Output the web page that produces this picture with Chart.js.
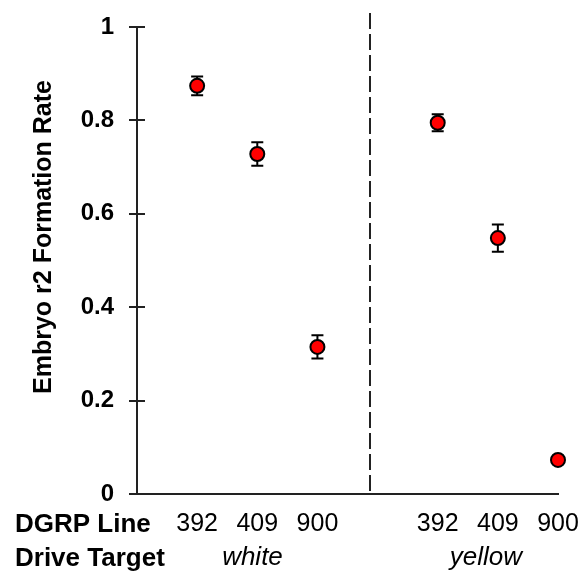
<!DOCTYPE html>
<html>
<head>
<meta charset="utf-8">
<script src="https://cdn.jsdelivr.net/npm/chart.js@4/dist/chart.umd.min.js"></script>
<style>
  html, body { margin: 0; padding: 0; background: #fff; }
  #wrap { width: 582px; height: 571px; }
</style>
</head>
<body>
<div id="wrap"><canvas id="chart" width="582" height="571"></canvas></div>
<script>
// ===========================================
// Data
// ===========================================

// DGRP lines along the x axis (blank slots = left edge and the gap between targets)
var lineLabels = ["", "392", "409", "900", "", "392", "409", "900"];

// Embryo r2 formation rate (null where there is no point)
var rateValues = [null, 0.874, 0.728, 0.315, null, 0.795, 0.548, 0.073];

// Error bar half-heights
var rateErrors = [null, 0.020, 0.025, 0.025, null, 0.018, 0.029, 0.005];

// Drive targets, one per group of three lines
var driveTargets = ["white", "yellow"];

var yTicks = [0, 0.2, 0.4, 0.6, 0.8, 1];

// ===========================================
// Styles
// ===========================================
var fontFamily = '"Liberation Sans", Arial, sans-serif';
var axisColor = "#222";
var pointColor = "#ff0000";

// ===========================================
// Plugins
// ===========================================
var errorBars = {
	id: "errorBars",
	beforeDatasetsDraw: function(chart) {
		var ctx = chart.ctx;
		var x = chart.scales.x, y = chart.scales.y;
		ctx.save();
		ctx.strokeStyle = "#000";
		ctx.lineWidth = 2;
		for (var i = 0; i < rateValues.length; i++) {
			if (rateValues[i] == null) continue;
			var px = x.getPixelForValue(i);
			var top = y.getPixelForValue(rateValues[i] + rateErrors[i]);
			var bot = y.getPixelForValue(rateValues[i] - rateErrors[i]);
			ctx.beginPath();
			ctx.moveTo(px, top); ctx.lineTo(px, bot);
			ctx.moveTo(px - 6, top); ctx.lineTo(px + 6, top);
			ctx.moveTo(px - 6, bot); ctx.lineTo(px + 6, bot);
			ctx.stroke();
		}
		ctx.restore();
	}
};

var decorations = {
	id: "decorations",
	afterDraw: function(chart) {
		var ctx = chart.ctx;
		var x = chart.scales.x, y = chart.scales.y;
		var area = chart.chartArea;
		ctx.save();

		// inner half of the y ticks
		ctx.strokeStyle = axisColor;
		ctx.lineWidth = 2;
		yTicks.forEach(function(t) {
			var py = Math.round(y.getPixelForValue(t));
			ctx.beginPath();
			ctx.moveTo(area.left, py);
			ctx.lineTo(area.left + 8, py);
			ctx.stroke();
		});

		// dashed separator between the two targets
		var sx = Math.round(x.getPixelForValue(3.87));
		ctx.setLineDash([16, 5]);
		ctx.beginPath();
		ctx.moveTo(sx, 13);
		ctx.lineTo(sx, area.bottom);
		ctx.stroke();
		ctx.setLineDash([]);

		// y title
		ctx.fillStyle = "#000";
		ctx.font = "bold 25px " + fontFamily;
		ctx.textAlign = "center";
		ctx.textBaseline = "middle";
		ctx.translate(44, 237);
		ctx.rotate(-Math.PI / 2);
		ctx.fillText("Embryo r2 Formation Rate", 0, 0);
		ctx.setTransform(1, 0, 0, 1, 0, 0);

		// row labels under the axis
		ctx.textAlign = "left";
		ctx.textBaseline = "alphabetic";
		ctx.font = "bold 26px " + fontFamily;
		ctx.fillText("DGRP Line", 15, 532);
		ctx.fillText("Drive Target", 15, 566);

		ctx.textAlign = "center";
		ctx.font = "italic 26px " + fontFamily;
		ctx.fillText(driveTargets[0], x.getPixelForValue(1.92), 565);
		ctx.fillText(driveTargets[1], x.getPixelForValue(5.8), 565);

		ctx.restore();
	}
};

// ===========================================
// Chart
// ===========================================
Chart.defaults.font.family = fontFamily;
Chart.defaults.color = "#000";

new Chart(document.getElementById("chart").getContext("2d"), {
	type: "line",
	data: {
		labels: lineLabels,
		datasets: [{
			data: rateValues,
			showLine: false,
			clip: false,
			pointRadius: 7,
			pointHoverRadius: 7,
			pointBorderWidth: 2,
			pointBackgroundColor: pointColor,
			pointBorderColor: "#000"
		}]
	},
	options: {
		responsive: false,
		devicePixelRatio: 1,
		animation: false,
		layout: { padding: { top: 27, right: 24, bottom: 0, left: 0 } },
		plugins: { legend: { display: false }, tooltip: { enabled: false } },
		scales: {
			x: {
				type: "category",
				offset: false,
				grid: { drawOnChartArea: false, drawTicks: false },
				border: { color: axisColor, width: 2 },
				ticks: {
					autoSkip: false,
					maxRotation: 0,
					padding: 15,
					font: { size: 25 },
					color: "#000"
				},
				afterFit: function(scale) {
					scale.height = 77;
					scale.paddingLeft = 0;
					scale.paddingRight = 0;
				}
			},
			y: {
				min: 0,
				max: 1,
				grid: { drawOnChartArea: false, drawTicks: true, tickLength: 8, color: axisColor, lineWidth: 2 },
				border: { color: axisColor, width: 2 },
				ticks: {
					stepSize: 0.2,
					padding: 15,
					font: { size: 24, weight: "bold" },
					color: "#000",
					callback: function(v) {
						return (v === 0 || v === 1) ? String(v) : v.toFixed(1);
					}
				},
				afterFit: function(scale) {
					scale.width = 137;
					scale.paddingTop = 0;
					scale.paddingBottom = 0;
				}
			}
		}
	},
	plugins: [errorBars, decorations]
});
</script>
</body>
</html>
